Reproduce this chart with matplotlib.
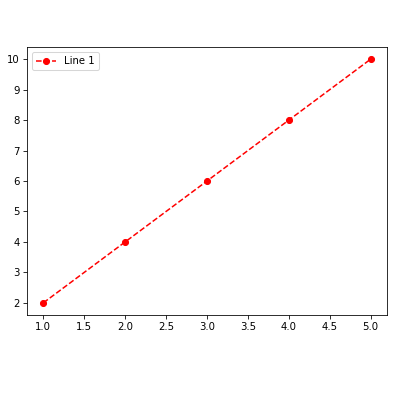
import matplotlib
matplotlib.use("Agg")
import matplotlib.pyplot as plt

x = [1, 2, 3, 4, 5]
y = [2, 4, 6, 8, 10]
label = "Line 1"

DPI = 72.6
fig = plt.figure(figsize=(400 / DPI, 400 / DPI), dpi=DPI)
ax = fig.add_axes([27 / 400, 85 / 400, 360 / 400, 268 / 400])

ax.plot(x, y, "o--", color="red", label=label)
ax.legend(loc="upper left")

fig.savefig("out.png", dpi=DPI, facecolor="white")
